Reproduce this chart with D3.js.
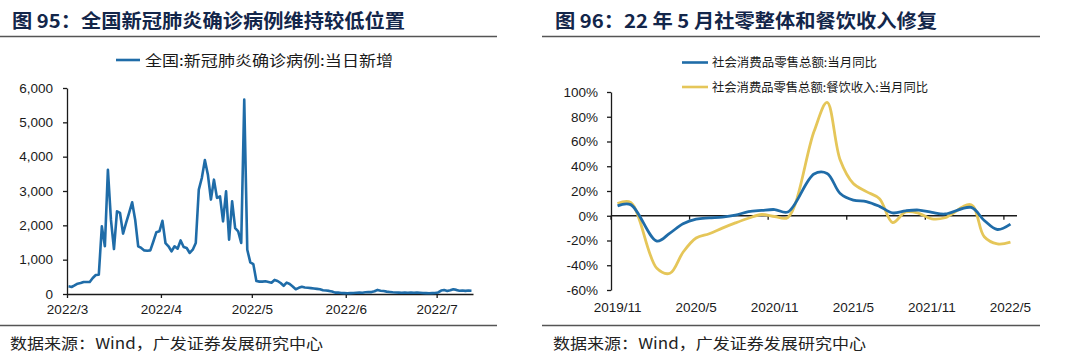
<!DOCTYPE html>
<html><head><meta charset="utf-8">
<script src="https://cdn.jsdelivr.net/npm/d3@7"></script>
<style>
body{margin:0;background:#fff;}
svg{display:block;}
text{font-family:"Liberation Sans",Arial,sans-serif;}
.cjk{font-family:"Noto Sans CJK SC","Noto Sans",sans-serif;}
</style></head>
<body><svg id="c" width="1080" height="364"></svg>
<script>
// ---------- Chart 95 data: daily new confirmed cases, starting 2022-03-01 ----------
const covidStart = "2022-03-01";
const covidDaily = [
 223,204,250,300,320,350,350,350,466,553,563,1970,1390,3620,2165,1310,2410,2360,1760,2070,
 2360,2670,2165,1390,1340,1270,1260,1270,1530,1800,1825,2130,1485,1390,1240,1390,1320,1560,1370,1340,
 1195,1290,1485,3040,3380,3900,3475,2750,3330,2800,2845,2115,2990,1580,2700,1920,1825,1485,5660,1290,
 920,870,380,360,360,370,350,330,410,380,320,240,330,290,220,140,180,210,190,180,
 170,160,150,140,110,100,90,70,40,45,30,25,20,25,30,35,40,35,50,60,
 55,80,120,95,85,70,60,50,45,40,35,40,38,42,35,40,38,30,25,20,
 25,30,45,100,115,90,110,140,120,95,100,90,100,95
];
const covidTicks = ["2022-03-01","2022-04-01","2022-05-01","2022-06-01","2022-07-01"];
const covidYTicks = [0,1000,2000,3000,4000,5000,6000];
const covidLegend = "全国:新冠肺炎确诊病例:当日新增";

// ---------- Chart 96 data: monthly YoY (%) ----------
const months = ["2019/11","2019/12","2020/1","2020/2","2020/3","2020/4","2020/5","2020/6","2020/7","2020/8",
 "2020/9","2020/10","2020/11","2020/12","2021/1","2021/2","2021/3","2021/4","2021/5","2021/6",
 "2021/7","2021/8","2021/9","2021/10","2021/11","2021/12","2022/1","2022/2","2022/3","2022/4","2022/5"];
const retailYoY = [8.0,9.0,null,-20.5,-14.0,-6.5,-2.8,-1.8,-1.1,0.5,3.3,4.3,5.0,3.0,null,33.8,34.2,18.0,12.6,11.5,
 7.6,2.3,4.0,4.6,2.8,1.4,null,6.7,-3.8,-11.1,-6.7];
const cateringYoY = [9.8,10.8,null,-42.5,-46.5,-29.5,-18.0,-14.5,-10.0,-5.8,-2.0,1.0,-0.6,-1.4,null,68.0,91.6,45.0,26.0,19.5,
 13.8,-5.5,3.1,2.0,-2.5,-1.6,null,8.9,-17.0,-22.7,-21.3];
const retailYTicks = [-60,-40,-20,0,20,40,60,80,100];
const retailXTickLabels = ["2019/11","2020/5","2020/11","2021/5","2021/11","2022/5"];
const seriesNames = ["社会消费品零售总额:当月同比","社会消费品零售总额:餐饮收入:当月同比"];

const titles = ["图 95：全国新冠肺炎确诊病例维持较低位置","图 96：22 年 5 月社零整体和餐饮收入修复"];
const source = "数据来源：Wind，广发证券发展研究中心";

const svg = d3.select("#c");
const BLUE = "#1f6ca8", YELLOW = "#e5c659", INK = "#1a1a1a", TITLE = "#13264a";

// ---------- Headers and footers ----------
const panels = [{x0:0, x1:497, tx:12, tw:393, fx:10, fw:313},{x0:542, x1:1040, tx:555, tw:382, fx:553, fw:313}];
panels.forEach((p,i)=>{
  svg.append("text").attr("class","cjk").attr("x",p.tx).attr("y",28)
    .attr("font-size",19).attr("font-weight",700).attr("fill",TITLE)
    .attr("textLength",p.tw).attr("lengthAdjust","spacingAndGlyphs").text(titles[i]);
  svg.append("line").attr("x1",p.x0).attr("x2",p.x1).attr("y1",36.5).attr("y2",36.5)
    .attr("stroke","#555").attr("stroke-width",1.5);
  svg.append("line").attr("x1",p.x0).attr("x2",p.x1).attr("y1",325.5).attr("y2",325.5)
    .attr("stroke","#555").attr("stroke-width",1.5);
  svg.append("text").attr("class","cjk").attr("x",p.fx).attr("y",349)
    .attr("font-size",15).attr("fill","#222")
    .attr("textLength",p.fw).attr("lengthAdjust","spacingAndGlyphs").text(source);
});

// ---------- Chart 95 ----------
(function(){
  const parse = d3.timeParse("%Y-%m-%d");
  const t0 = parse(covidStart);
  const pts = covidDaily.map((v,i)=>({d:d3.timeHour.offset(d3.timeDay.offset(t0,i),12), v}));
  const x = d3.scaleTime().domain([t0, d3.timeDay.offset(t0, covidDaily.length)]).range([67,473]);
  const y = d3.scaleLinear().domain([0,6000]).range([294,88]);
  const g = svg.append("g");
  const ya = g.append("g").attr("transform","translate(67,0)")
    .call(d3.axisLeft(y).tickValues(covidYTicks).tickFormat(d3.format(",")).tickSize(4).tickSizeOuter(0).tickPadding(10));
  const xa = g.append("g").attr("transform","translate(0,294)")
    .call(d3.axisBottom(x).tickValues(covidTicks.map(parse)).tickFormat(d3.timeFormat("%Y/%-m")).tickSize(4).tickSizeOuter(0).tickPadding(6));
  [ya,xa].forEach(a=>{
    a.selectAll("path,line").attr("stroke",INK).attr("stroke-width",1.3);
    a.selectAll("text").attr("font-size",13.5).attr("fill",INK).attr("font-family","Liberation Sans, Arial");
  });
  g.append("path").datum(pts).attr("fill","none").attr("stroke",BLUE).attr("stroke-width",2.6)
    .attr("stroke-linejoin","round")
    .attr("d", d3.line().x(d=>x(d.d)).y(d=>y(d.v)));
  // legend
  g.append("line").attr("x1",116).attr("x2",140).attr("y1",60).attr("y2",60).attr("stroke",BLUE).attr("stroke-width",2.6);
  g.append("text").attr("class","cjk").attr("x",145).attr("y",65.5).attr("font-size",14.5).attr("fill",INK)
    .attr("textLength",248).attr("lengthAdjust","spacingAndGlyphs").text(covidLegend);
})();

// ---------- Chart 96 ----------
(function(){
  const x = d3.scaleBand().domain(months).range([611,1017]).padding(0);
  const y = d3.scaleLinear().domain([-60,100]).range([290,92]);
  const g = svg.append("g");
  const ya = g.append("g").attr("transform","translate(611,0)")
    .call(d3.axisLeft(y).tickValues(retailYTicks).tickFormat(d=>d+"%").tickSize(4).tickSizeOuter(0).tickPadding(9));
  ya.selectAll("path,line").attr("stroke",INK).attr("stroke-width",1.3);
  ya.selectAll("text").attr("font-size",13.5).attr("fill",INK);
  // zero axis with ticks at band starts
  const xa = g.append("g").attr("transform",`translate(0,${y(0)})`);
  xa.append("line").attr("x1",611).attr("x2",1017).attr("stroke",INK).attr("stroke-width",1.3);
  retailXTickLabels.forEach(m=>{
    xa.append("line").attr("x1",x(m)).attr("x2",x(m)).attr("y1",0).attr("y2",4).attr("stroke",INK).attr("stroke-width",1.3);
  });
  retailXTickLabels.forEach(m=>{
    g.append("text").attr("x",x(m)+x.bandwidth()/2).attr("y",312).attr("text-anchor","middle")
      .attr("font-size",13.5).attr("fill",INK).text(m);
  });
  const line = d3.line().curve(d3.curveCatmullRom.alpha(0.5))
    .x(d=>x(d.m)+x.bandwidth()/2).y(d=>y(d.v));
  const mk = arr => months.map((m,i)=>({m, v:arr[i]})).filter(d=>d.v!==null);
  g.append("path").datum(mk(cateringYoY)).attr("fill","none").attr("stroke",YELLOW).attr("stroke-width",2.8).attr("d",line);
  g.append("path").datum(mk(retailYoY)).attr("fill","none").attr("stroke",BLUE).attr("stroke-width",2.8).attr("d",line);
  // legend
  [[BLUE,62.5,165],[YELLOW,87,216]].forEach((l,i)=>{
    g.append("line").attr("x1",682).attr("x2",708).attr("y1",l[1]).attr("y2",l[1]).attr("stroke",l[0]).attr("stroke-width",2.6);
    g.append("text").attr("class","cjk").attr("x",712).attr("y",l[1]+4.5).attr("font-size",12.5).attr("fill",INK)
      .attr("textLength",l[2]).attr("lengthAdjust","spacingAndGlyphs").text(seriesNames[i]);
  });
})();
</script></body></html>
